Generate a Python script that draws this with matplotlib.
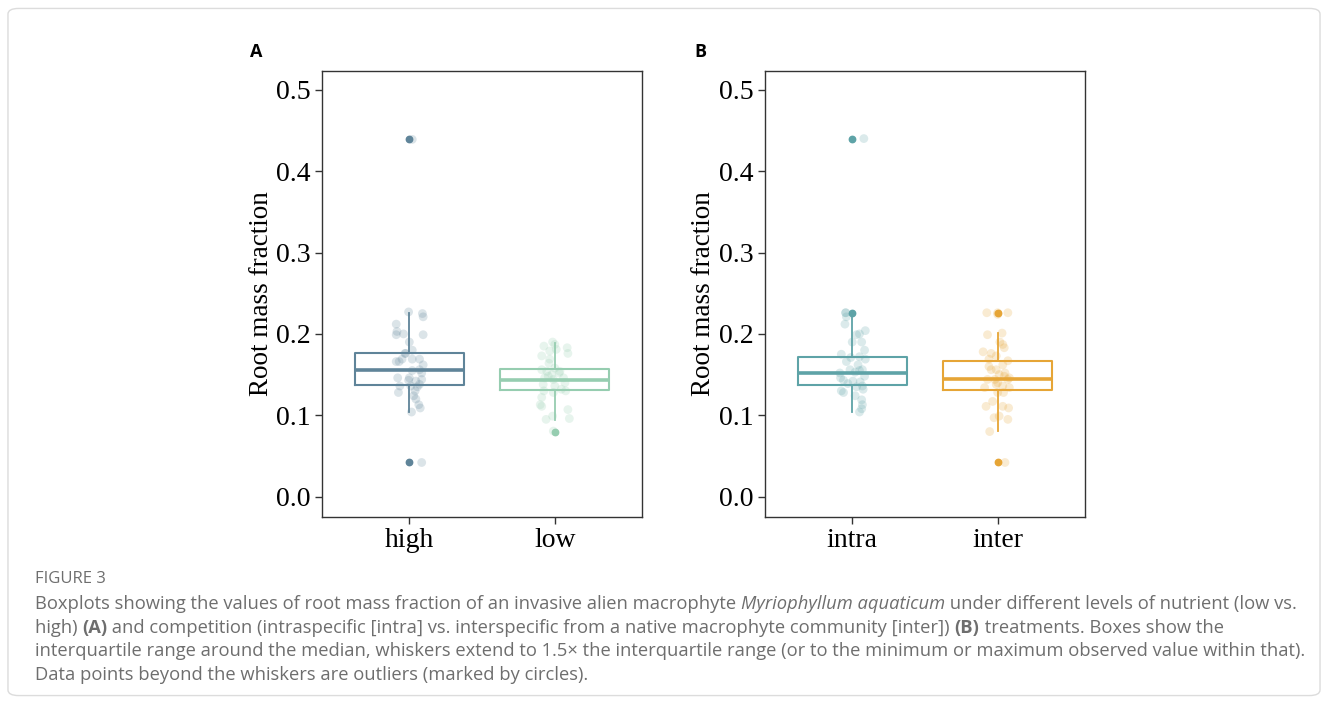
import numpy as np
import matplotlib.pyplot as plt
from matplotlib.patches import FancyBboxPatch

# ---- data ----
# panel A: nutrient
high_y = [0.439, 0.227, 0.225, 0.221, 0.212, 0.203, 0.199, 0.200, 0.199, 0.190,
          0.180, 0.176, 0.176, 0.169, 0.166, 0.166, 0.169, 0.169, 0.162, 0.156,
          0.155, 0.152, 0.146, 0.146, 0.144, 0.136, 0.143, 0.142, 0.138, 0.135,
          0.136, 0.128, 0.130, 0.124, 0.120, 0.113, 0.109, 0.104, 0.042]
high_dx = [0.02, -0.005, 0.09, 0.095, -0.09, -0.085, -0.09, -0.04, 0.095, 0.0,
           0.02, -0.025, -0.03, -0.05, -0.09, -0.07, 0.02, 0.07, 0.095, 0.07,
           0.02, 0.085, 0.0, -0.08, 0.085, -0.065, -0.005, 0.045, 0.07, 0.055,
           0.01, -0.075, 0.04, 0.03, 0.045, 0.065, 0.075, 0.015, 0.085]
low_y = [0.0806, 0.190, 0.187, 0.185, 0.183, 0.179, 0.181, 0.176, 0.173, 0.169,
         0.164, 0.158, 0.154, 0.156, 0.154, 0.150, 0.146, 0.144, 0.146, 0.140,
         0.138, 0.136, 0.132, 0.130, 0.130, 0.128, 0.122, 0.113, 0.111, 0.107,
         0.099, 0.095, 0.096, 0.152, 0.148]
low_dx = [-0.01, -0.015, 0.0, -0.075, 0.085, -0.035, 0.01, 0.09, -0.09, -0.035,
          -0.04, 0.0, -0.055, -0.09, 0.035, -0.02, -0.07, -0.01, 0.06, 0.07,
          -0.08, 0.0, 0.045, 0.075, -0.075, -0.01, -0.09, -0.1, -0.09, 0.09,
          -0.015, -0.06, 0.1, 0.03, -0.045]

# panel B: competition
intra_y = [0.440, 0.226, 0.226, 0.221, 0.212, 0.204, 0.199, 0.200, 0.190, 0.190,
           0.180, 0.175, 0.171, 0.172, 0.169, 0.166, 0.162, 0.156, 0.155, 0.156,
           0.153, 0.152, 0.148, 0.146, 0.143, 0.142, 0.141, 0.139, 0.136, 0.135,
           0.130, 0.128, 0.132, 0.124, 0.119, 0.113, 0.108, 0.104]
intra_dx = [0.08, -0.045, -0.045, -0.04, -0.05, 0.09, 0.03, 0.05, 0.0, 0.065,
            0.085, -0.075, -0.01, 0.05, 0.09, -0.04, 0.04, -0.015, 0.05, 0.07,
            0.02, -0.085, 0.085, -0.08, -0.06, 0.005, 0.055, -0.03, 0.07, 0.03,
            -0.075, -0.06, 0.075, 0.02, 0.065, 0.07, 0.065, 0.05]
inter_y = [0.042, 0.226, 0.224, 0.226, 0.226, 0.199, 0.201, 0.190, 0.187, 0.183,
           0.178, 0.176, 0.173, 0.169, 0.167, 0.160, 0.156, 0.162, 0.156, 0.150,
           0.148, 0.146, 0.144, 0.144, 0.144, 0.134, 0.138, 0.136, 0.134, 0.128,
           0.128, 0.117, 0.111, 0.111, 0.109, 0.097, 0.099, 0.095, 0.080, 0.152,
           0.140]
inter_dx = [0.05, -0.075, 0.0, 0.0, 0.07, -0.07, 0.03, 0.015, 0.035, 0.045,
            -0.1, -0.045, -0.01, -0.06, 0.07, -0.06, -0.01, 0.035, -0.045, 0.01,
            0.045, 0.08, -0.07, -0.02, 0.07, -0.09, -0.01, 0.035, 0.08, 0.0,
            0.04, -0.035, -0.08, 0.035, 0.075, -0.025, 0.01, 0.07, -0.055, 0.05,
            0.0]

# box statistics (q1, median, q3, whisker ends, outliers)
box_A = [
    dict(label="high", q1=0.137, med=0.1555, q3=0.176, whislo=0.104, whishi=0.226, fliers=[0.439, 0.042]),
    dict(label="low", q1=0.131, med=0.1436, q3=0.157, whislo=0.094, whishi=0.189, fliers=[0.080]),
]
box_B = [
    dict(label="intra", q1=0.137, med=0.152, q3=0.172, whislo=0.104, whishi=0.221, fliers=[0.440, 0.226]),
    dict(label="inter", q1=0.131, med=0.1448, q3=0.167, whislo=0.0806, whishi=0.2005, fliers=[0.226, 0.042]),
]

colors_A = ["#5f8499", "#96cdb0"]
colors_B = ["#5ea3a7", "#e6a536"]
ylab = "Root mass fraction"

plt.rcParams["font.family"] = ["Liberation Serif", "DejaVu Serif"]

fig = plt.figure(figsize=(13.28, 7.04), dpi=100)

# light frame around the whole figure
fig.patches.append(FancyBboxPatch((0.006, 0.012), 0.988, 0.976,
                                  boxstyle="round,pad=0,rounding_size=0.008",
                                  transform=fig.transFigure, fill=False,
                                  edgecolor="#dcdcdc", linewidth=1.0))


def panel(ax, stats, pts, dxs, cols):
    for i, (st, ys, dx, c) in enumerate(zip(stats, pts, dxs, cols)):
        pos = i + 1
        ax.scatter(pos + np.array(dx), ys, s=40, color=c, alpha=0.22,
                   edgecolors="none", zorder=2)
        ax.bxp([st], positions=[pos], widths=0.75, showcaps=False,
               boxprops=dict(color=c, linewidth=1.5),
               medianprops=dict(color=c, linewidth=2.6),
               whiskerprops=dict(color=c, linewidth=1.3),
               flierprops=dict(marker="o", markerfacecolor=c,
                               markeredgecolor=c, markersize=4.6),
               manage_ticks=False, zorder=3)
    ax.set_xlim(0.4, 2.6)
    ax.set_ylim(-0.025, 0.523)
    ax.set_xticks([1, 2])
    ax.set_xticklabels([s["label"] for s in stats])
    ax.set_yticks([0.0, 0.1, 0.2, 0.3, 0.4, 0.5])
    ax.set_yticklabels(["0.0", "0.1", "0.2", "0.3", "0.4", "0.5"])
    ax.tick_params(labelsize=20, length=5, width=1, color="#333333",
                   labelcolor="black", pad=3)
    ax.set_ylabel(ylab, fontsize=19.5, labelpad=2)
    for sp in ax.spines.values():
        sp.set_color("#333333")
        sp.set_linewidth(1.0)


axA = fig.add_axes([0.2425, 0.2656, 0.2410, 0.6335])
axB = fig.add_axes([0.5760, 0.2656, 0.2410, 0.6335])
panel(axA, box_A, [high_y, low_y], [high_dx, low_dx], colors_A)
panel(axB, box_B, [intra_y, inter_y], [intra_dx, inter_dx], colors_B)

sans = ["Open Sans", "DejaVu Sans"]
fig.text(256 / 1328, 1 - 52 / 704, "A", fontsize=13, fontweight="bold",
         family=sans, ha="center", va="center")
fig.text(700 / 1328, 1 - 52 / 704, "B", fontsize=13, fontweight="bold",
         family=sans, ha="center", va="center")

# ---- caption ----
cap_col = "#6e6e6e"
fig.text(35 / 1328, 1 - 579 / 704, "FIGURE 3", fontsize=12, family=sans,
         color=cap_col, va="center")

cap_lines = [
    [("Boxplots showing the values of root mass fraction of an invasive alien macrophyte ", "normal", "normal"),
     ("Myriophyllum aquaticum", "normal", "italic"),
     (" under different levels of nutrient (low vs.", "normal", "normal")],
    [("high) ", "normal", "normal"), ("(A)", "bold", "normal"),
     (" and competition (intraspecific [intra] vs. interspecific from a native macrophyte community [inter]) ", "normal", "normal"),
     ("(B)", "bold", "normal"), (" treatments. Boxes show the", "normal", "normal")],
    [("interquartile range around the median, whiskers extend to 1.5\u00d7 the interquartile range (or to the minimum or maximum observed value within that).", "normal", "normal")],
    [("Data points beyond the whiskers are outliers (marked by circles).", "normal", "normal")],
]
cap_y = [604, 628, 651, 675]

renderer = fig.canvas.get_renderer()
for line, yp in zip(cap_lines, cap_y):
    x = 35
    for txt, wt, st in line:
        t = fig.text(x / 1328, 1 - yp / 704, txt, fontsize=13.2, family=sans,
                     fontweight=wt, fontstyle=st, color=cap_col, va="center")
        bb = t.get_window_extent(renderer)
        x += bb.width

fig.savefig("out.png", dpi=100)
